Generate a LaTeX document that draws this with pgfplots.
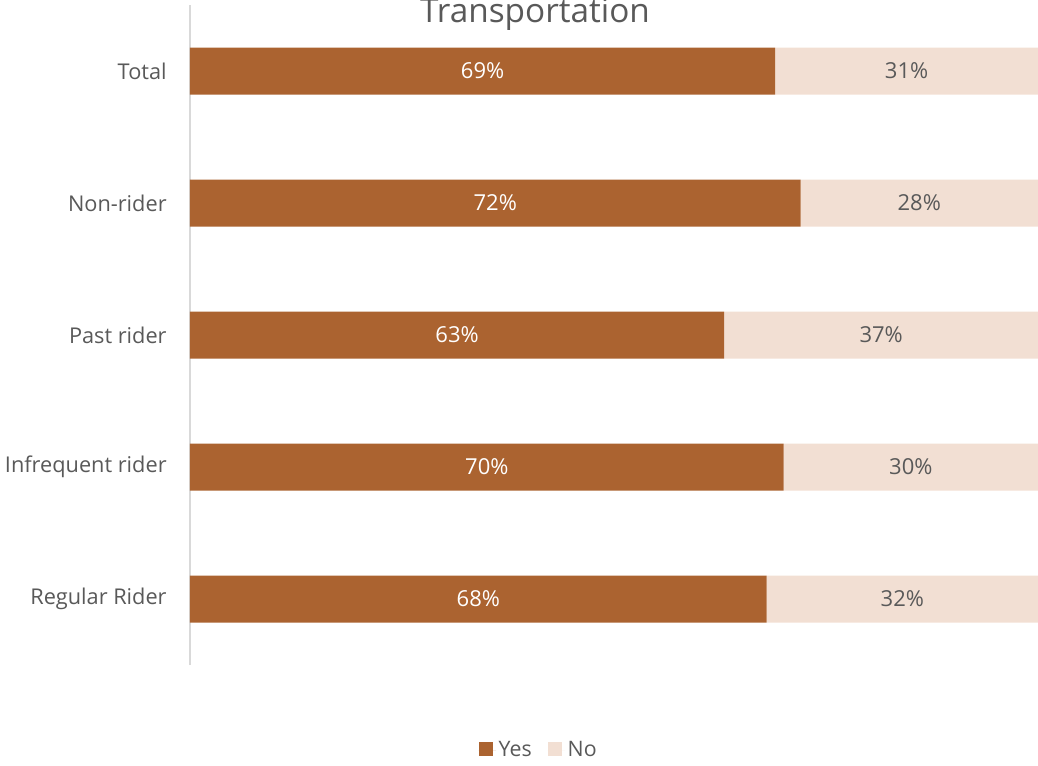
\documentclass[border=0pt]{standalone}
\usepackage{pgfplots}
\pgfplotsset{compat=1.18}
\usepackage{fontspec}
\setmainfont{Open Sans}
\definecolor{yescol}{HTML}{AB6330}
\definecolor{nocol}{HTML}{F2DFD3}
\definecolor{txt}{HTML}{595959}
\definecolor{axl}{HTML}{D9D9D9}
\begin{document}
\begin{tikzpicture}
\pgfplotsset{
  common/.style={
    at={(142.5pt,75pt)}, anchor=south west,
    scale only axis, width=636pt, height=495pt,
    xmin=0, xmax=100, ymin=-0.5, ymax=4.5,
  }
}
\begin{axis}[common,
  xbar stacked, bar width=0.356,
  axis x line=none, axis y line=left,
  y axis line style={axl, line width=1.5pt, -},
  ytick={0,1,2,3,4},
  yticklabels={Regular Rider, Infrequent rider, Past rider, Non-rider, Total},
  major tick length=0pt,
  yticklabel style={font=\fontsize{16.3}{19}\selectfont, text=txt, xshift=-14pt},
  legend columns=2,
  legend style={at={(0.4116,-0.1288)}, anchor=center, draw=none, fill=none,
    font=\fontsize{16}{19}\selectfont, text=txt,
    /tikz/every odd column/.append style={column sep=0pt},
    /tikz/every even column/.append style={column sep=10pt}},
  legend image code/.code={\fill[#1] (0pt,-4.5pt) rectangle (10.5pt,6pt);
    \path (0pt,0pt) -- (13pt,0pt);},
]
\addplot[fill=yescol, draw=none] coordinates {(68,0) (70,1) (63,2) (72,3) (69,4)};
\addplot[fill=nocol, draw=none] coordinates {(32,0) (30,1) (37,2) (28,3) (31,4)};
\legend{Yes, No}
\end{axis}
\begin{axis}[common, hide axis]
\addplot[only marks, mark=none, nodes near coords, nodes near coords align=center,
  point meta=explicit symbolic,
  every node near coord/.append style={font=\fontsize{16.5}{19}\selectfont, text=white}]
  coordinates {(34,0) [68\%] (35,1) [70\%] (31.5,2) [63\%] (36,3) [72\%] (34.5,4) [69\%]};
\addplot[only marks, mark=none, nodes near coords, nodes near coords align=center,
  point meta=explicit symbolic,
  every node near coord/.append style={font=\fontsize{16.5}{19}\selectfont, text=txt}]
  coordinates {(84,0) [32\%] (85,1) [30\%] (81.5,2) [37\%] (86,3) [28\%] (84.5,4) [31\%]};
\end{axis}
\node[anchor=base, font=\fontsize{25}{30}\selectfont, text=txt] at (401.25pt,556.5pt) {Transportation};
\pgfresetboundingbox
\useasboundingbox (0,0) rectangle (778.5pt,573.75pt);
\end{tikzpicture}
\end{document}
